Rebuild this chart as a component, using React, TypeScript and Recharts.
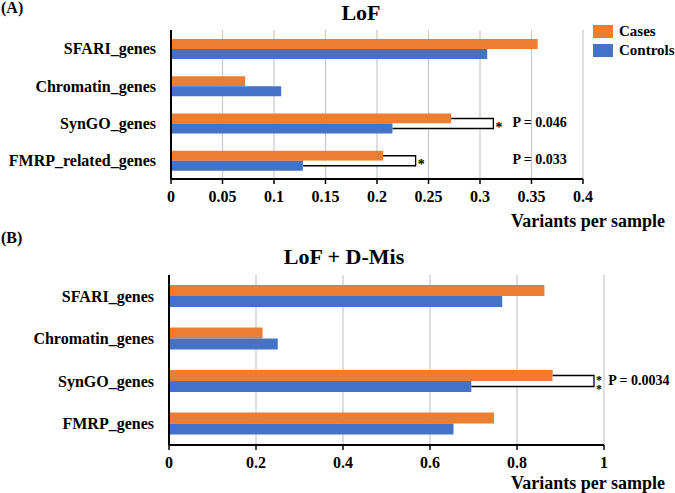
import React from "react";
import { BarChart, Bar, XAxis, YAxis, CartesianGrid } from "recharts";

const FONT = '"Liberation Serif", "Times New Roman", serif';
const ORANGE = "#ED7D31";
const BLUE = "#4472C4";

// panel A: LoF
const categoriesA = ["SFARI_genes", "Chromatin_genes", "SynGO_genes", "FMRP_related_genes"];
const casesA = [0.356, 0.072, 0.272, 0.206];
const controlsA = [0.307, 0.107, 0.215, 0.128];
const ticksA = [0, 0.05, 0.1, 0.15, 0.2, 0.25, 0.3, 0.35, 0.4];
const bracketA = [null, null, 0.313, 0.2375];
const starsA = ["", "", "*", "*"];
const pValuesA = ["", "", "P = 0.046", "P = 0.033"];

// panel B: LoF + D-Mis
const categoriesB = ["SFARI_genes", "Chromatin_genes", "SynGO_genes", "FMRP_genes"];
const casesB = [0.863, 0.215, 0.882, 0.747];
const controlsB = [0.766, 0.25, 0.695, 0.654];
const ticksB = [0, 0.2, 0.4, 0.6, 0.8, 1];
const bracketB = [null, null, 0.977, null];
const starsB = ["", "", "**", ""];
const pValuesB = ["", "", "P = 0.0034", ""];

type Row = {
  name: string;
  cases: number;
  controls: number;
  reach: number | null;
  stars: string;
  p: string;
};

const makeRows = (
  cats: string[],
  cases: number[],
  controls: number[],
  reach: (number | null)[],
  stars: string[],
  p: string[]
): Row[] =>
  cats.map((name, i) => ({
    name,
    cases: cases[i],
    controls: controls[i],
    reach: reach[i],
    stars: stars[i],
    p: p[i],
  }));

const rowsA = makeRows(categoriesA, casesA, controlsA, bracketA, starsA, pValuesA);
const rowsB = makeRows(categoriesB, casesB, controlsB, bracketB, starsB, pValuesB);

// Cases bar + significance bracket drawn from the bar's own geometry
const casesShape = (pAt: number, stack: boolean, starSize: number) => (props: any) => {
  const { x, y, width, height, payload } = props;
  const row: Row = payload;
  const perUnit = width / row.cases;
  const parts: React.ReactNode[] = [
    <rect key="bar" x={x} y={y} width={width} height={height} fill={ORANGE} />,
  ];
  if (row.reach != null) {
    const xCases = x + width;
    const xCtrl = x + row.controls * perUnit;
    const xr = x + row.reach * perUnit;
    const yTop = y + height / 2;
    const yBot = y + height * 1.5;
    const mid = (yTop + yBot) / 2;
    parts.push(
      <polygon
        key="fill"
        points={`${xCases},${yTop} ${xr},${yTop} ${xr},${yBot} ${xCtrl},${yBot} ${xCtrl},${y + height} ${xCases},${y + height}`}
        fill="#fff"
      />,
      <polyline
        key="br"
        points={`${xCases},${yTop} ${xr},${yTop} ${xr},${yBot} ${xCtrl},${yBot}`}
        fill="none"
        stroke="#000"
        strokeWidth={1.3}
      />
    );
    const chars = row.stars.split("");
    const gap = stack ? 9 : 0;
    parts.push(
      <text
        key="stars"
        fontFamily={FONT}
        fontWeight="bold"
        fontSize={starSize}
        fill="#000"
        dominantBaseline="central"
      >
        {chars.map((c, i) => (
          <tspan key={i} x={xr + 2} y={mid + 3 + (i - (chars.length - 1) / 2) * gap}>
            {c}
          </tspan>
        ))}
      </text>
    );
    parts.push(
      <text
        key="p"
        x={x + pAt * perUnit}
        y={mid - 1}
        dominantBaseline="central"
        fontFamily={FONT}
        fontWeight="bold"
        fontSize={14}
        fill="#000"
      >
        {row.p}
      </text>
    );
  }
  return <g>{parts}</g>;
};

const tickStyle = { fontFamily: FONT, fontWeight: "bold", fontSize: 16, fill: "#000" } as any;

const Panel = ({
  rows,
  ticks,
  height,
  margin,
  yWidth,
  barSize,
  pAt,
  stack,
  starSize,
}: {
  rows: Row[];
  ticks: number[];
  height: number;
  margin: { top: number; right: number; bottom: number; left: number };
  yWidth: number;
  barSize: number;
  pAt: number;
  stack: boolean;
  starSize: number;
}) => (
  <BarChart width={675} height={height} data={rows} layout="vertical" margin={margin} barGap={0}>
    <CartesianGrid horizontal={false} stroke="#c8c8c8" strokeWidth={1.2} />
    <XAxis
      type="number"
      domain={[ticks[0], ticks[ticks.length - 1]]}
      ticks={ticks}
      interval={0}
      height={30}
      tick={tickStyle}
      tickSize={5}
      tickMargin={7}
      axisLine={{ stroke: "#000", strokeWidth: 2 }}
      tickLine={{ stroke: "#000", strokeWidth: 1.5 }}
    />
    <YAxis
      type="category"
      dataKey="name"
      width={yWidth}
      tick={tickStyle}
      tickLine={false}
      tickSize={0}
      tickMargin={15}
      axisLine={{ stroke: "#000", strokeWidth: 2 }}
    />
    <Bar
      dataKey="cases"
      fill={ORANGE}
      barSize={barSize}
      isAnimationActive={false}
      shape={casesShape(pAt, stack, starSize)}
    />
    <Bar dataKey="controls" fill={BLUE} barSize={barSize} isAnimationActive={false} />
  </BarChart>
);

const txt = (size: number): React.CSSProperties => ({
  position: "absolute",
  fontFamily: FONT,
  fontWeight: "bold",
  fontSize: size,
  lineHeight: 1,
  whiteSpace: "nowrap",
  color: "#000",
});

export default function App() {
  return (
    <div style={{ position: "absolute", left: 0, top: 0, width: 675, height: 493, background: "#fff" }}>
      <div style={{ position: "absolute", left: 0, top: 0 }}>
        <Panel
          rows={rowsA}
          ticks={ticksA}
          height={240}
          margin={{ top: 30, right: 92, bottom: 31, left: 0 }}
          yWidth={171}
          barSize={10}
          pAt={0.3315}
          stack={false}
          starSize={14}
        />
      </div>
      <div style={{ position: "absolute", left: 0, top: 240 }}>
        <Panel
          rows={rowsB}
          ticks={ticksB}
          height={253}
          margin={{ top: 35, right: 71, bottom: 18, left: 0 }}
          yWidth={169}
          barSize={11}
          pAt={1.01}
          stack={true}
          starSize={12}
        />
      </div>

      <div style={{ ...txt(16), left: 1, top: 0 }}>(A)</div>
      <div style={{ ...txt(22), left: 361, top: 2, transform: "translateX(-50%)" }}>LoF</div>
      <div style={{ ...txt(18), right: 10, top: 212 }}>Variants per sample</div>

      <div style={{ position: "absolute", left: 593, top: 25, width: 20, height: 13, background: ORANGE }} />
      <div style={{ ...txt(15), left: 619, top: 24 }}>Cases</div>
      <div style={{ position: "absolute", left: 593, top: 44, width: 20, height: 13, background: BLUE }} />
      <div style={{ ...txt(15), left: 619, top: 43 }}>Controls</div>

      <div style={{ ...txt(16), left: 1, top: 230 }}>(B)</div>
      <div style={{ ...txt(22), left: 344, top: 246, transform: "translateX(-50%)" }}>LoF + D-Mis</div>
      <div style={{ ...txt(18), right: 10, top: 474 }}>Variants per sample</div>
    </div>
  );
}
